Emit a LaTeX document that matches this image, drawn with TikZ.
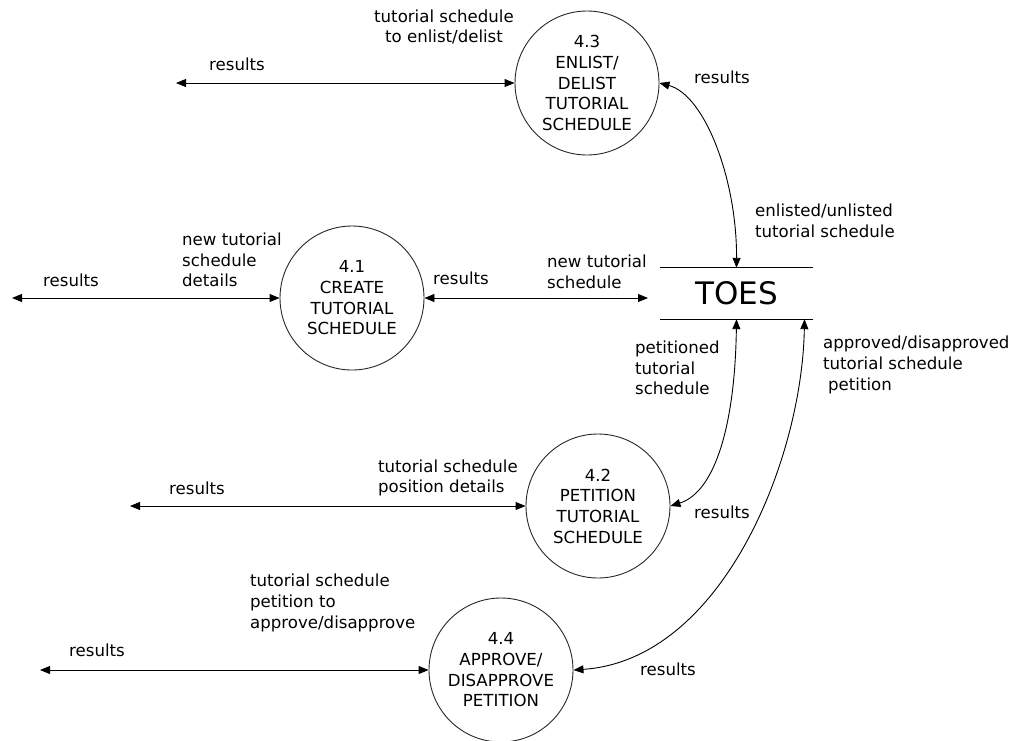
\documentclass[tikz,border=0pt]{standalone}
\usepackage{fontspec}
\setmainfont{DejaVu Sans}
\usetikzlibrary{arrows.meta,calc}
\begin{document}
\begin{tikzpicture}[x=1pt,y=-1pt,
  proc/.style={circle,draw=black!85,line width=0.9pt,minimum size=144pt,inner sep=0pt,align=center,font=\fontsize{16.6}{20.7}\selectfont},
  lbl/.style={font=\fontsize{16.6}{20.7}\selectfont,inner sep=0pt,align=left,anchor=west},
  flow/.style={line width=0.9pt,{Triangle[length=10pt,width=8pt]}-{Triangle[length=10pt,width=8pt]}}]
\useasboundingbox (0,0) rectangle (1023,740);
% processes
\node[proc] (p43) at (587,83) {4.3\\ENLIST/\\DELIST\\TUTORIAL\\SCHEDULE};
\node[proc] (p41) at (352,298) {4.1\\CREATE\\TUTORIAL\\SCHEDULE};
\node[proc] (p42) at (598,506) {4.2\\PETITION\\TUTORIAL\\SCHEDULE};
\node[proc] (p44) at (501,670) {4.4\\APPROVE/\\DISAPPROVE\\PETITION};
% data store
\node[minimum width=153pt,minimum height=51pt,inner sep=0pt,font=\fontsize{31}{31}\selectfont] (toes) at (736.5,293.5) {TOES};
\draw[line width=0.9pt] (toes.north west) -- (toes.north east);
\draw[line width=0.9pt] (toes.south west) -- (toes.south east);
\coordinate (toesS2) at ($(toes.south)+(68,0)$);
% free ends
\coordinate (e43) at (176,83);
\coordinate (e41) at (12,298);
\coordinate (e42) at (130,506);
\coordinate (e44) at (40,670);
\coordinate (toesW) at (648,298);
% flows
\draw[flow] (e43) -- (p43.west);
\draw[flow] (e41) -- (p41.west);
\draw[flow] (p41.east) -- (toesW);
\draw[flow] (e42) -- (p42.west);
\draw[flow] (e44) -- (p44.west);
\draw[flow] (p43.east) .. controls (705,95) and (737,180) .. (toes.north);
\draw[flow] (toes.south) .. controls (735,425) and (715,492) .. (p42.east);
\draw[flow] (toesS2) .. controls (802,460) and (722,660) .. (p44.east);
% labels
\node[lbl,align=center,anchor=center] (l1) at (444,27) {tutorial schedule\\to enlist/delist};
\node[lbl,anchor=center] (l2) at (237,64) {results};
\node[lbl,anchor=center] (l3) at (722,77) {results};
\node[lbl] (l4) at (755,221) {enlisted/unlisted\\tutorial schedule};
\node[lbl,anchor=center] (l5) at (71,280) {results};
\node[lbl] (l6) at (182,260) {new tutorial\\schedule\\details};
\node[lbl,anchor=center] (l7) at (461,278) {results};
\node[lbl] (l8) at (547,272) {new tutorial\\schedule};
\node[lbl] (l9) at (635,368) {petitioned\\tutorial\\schedule};
\node[lbl] (l10) at (823,365) {approved/disapproved\\tutorial schedule\\\hspace*{5pt}petition};
\node[lbl] (l11) at (378,478) {tutorial schedule\\position details};
\node[lbl,anchor=center] (l12) at (197,488) {results};
\node[lbl,anchor=center] (l13) at (722,512) {results};
\node[lbl] (l14) at (250,603) {tutorial schedule\\petition to\\approve/disapprove};
\node[lbl,anchor=center] (l15) at (97,650) {results};
\node[lbl,anchor=center] (l16) at (668,669) {results};
\end{tikzpicture}
\end{document}
